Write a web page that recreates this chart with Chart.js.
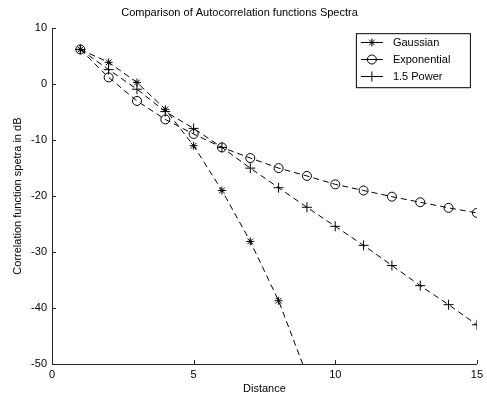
<!DOCTYPE html>
<html lang="en">
<head>
<meta charset="UTF-8">
<title>Comparison of Autocorrelation functions Spectra</title>
<script src="https://cdn.jsdelivr.net/npm/chart.js@4.4.1/dist/chart.umd.min.js"></script>
<style>
  html, body { margin: 0; padding: 0; background: #fff; }
</style>
</head>
<body>
<canvas id="spectraChart" width="487" height="398"></canvas>
<script>
// distance samples and spectra (dB) for each autocorrelation model
const distance = [1, 2, 3, 4, 5, 6, 7, 8, 9, 10, 11, 12, 13, 14, 15];
const gaussian = [6.2, 3.9, 0.3, -4.5, -11.0, -19.0, -28.1, -38.7, -52.0];
const exponential = [6.2, 1.2, -3.0, -6.3, -8.9, -11.3, -13.2, -15.0, -16.4, -17.9, -19.0, -20.1, -21.1, -22.1, -23.0];
const power15 = [6.2, 2.6, -0.9, -4.9, -7.9, -11.3, -15.0, -18.5, -22.0, -25.4, -28.8, -32.4, -36.0, -39.4, -43.0];
const seriesNames = ['Gaussian', 'Exponential', '1.5 Power'];
const xTicks = [0, 5, 10, 15];
const yTicks = [-50, -40, -30, -20, -10, 0, 10];

const FONT = 'Arial, "Liberation Sans", sans-serif';
const INK = '#000';
const AXIS = '#262626';

function toPoints(values) {
    return values.map((v, i) => ({ x: distance[i], y: v }));
}

function seriesStyle(label, values, pointStyle, radius) {
    return {
        label: label,
        data: toPoints(values),
        showLine: true,
        borderColor: INK,
        borderWidth: 1,
        borderDash: [6, 4],
        pointStyle: pointStyle,
        pointRadius: radius,
        pointHoverRadius: radius,
        pointBorderColor: INK,
        pointBackgroundColor: 'rgba(0,0,0,0)',
        pointBorderWidth: 1
    };
}

// MATLAB style tick marks pointing into the axes
const innerTicks = {
    id: 'innerTicks',
    afterDraw(chart) {
        const { ctx, chartArea, scales } = chart;
        ctx.save();
        ctx.strokeStyle = AXIS;
        ctx.lineWidth = 1;
        scales.x.ticks.forEach(t => {
            const px = Math.round(scales.x.getPixelForValue(t.value)) + 0.5;
            ctx.beginPath();
            ctx.moveTo(px, chartArea.bottom);
            ctx.lineTo(px, chartArea.bottom - 4);
            ctx.stroke();
        });
        scales.y.ticks.forEach(t => {
            const py = Math.round(scales.y.getPixelForValue(t.value)) + 0.5;
            ctx.beginPath();
            ctx.moveTo(chartArea.left, py);
            ctx.lineTo(chartArea.left + 4, py);
            ctx.stroke();
        });
        ctx.restore();
    }
};

// boxed legend with line + marker samples
const boxLegend = {
    id: 'boxLegend',
    afterDraw(chart) {
        const { ctx, chartArea } = chart;
        const w = 114, h = 54;
        const left = chartArea.right - 7 - w;
        const top = chartArea.top + 5;
        ctx.save();
        ctx.fillStyle = '#fff';
        ctx.fillRect(left, top, w, h);
        ctx.strokeStyle = INK;
        ctx.lineWidth = 1;
        ctx.strokeRect(left + 0.5, top + 0.5, w, h);
        ctx.font = '11px ' + FONT;
        ctx.textBaseline = 'middle';
        chart.data.datasets.forEach((ds, i) => {
            const cy = top + 9 + i * 17;
            ctx.strokeStyle = INK;
            ctx.setLineDash([]);
            ctx.beginPath();
            ctx.moveTo(left + 5, Math.round(cy) + 0.5);
            ctx.lineTo(left + 27, Math.round(cy) + 0.5);
            ctx.stroke();
            ctx.fillStyle = 'rgba(0,0,0,0)';
            Chart.helpers.drawPoint(ctx, {
                pointStyle: ds.pointStyle,
                radius: ds.pointRadius,
                rotation: 0,
                borderWidth: 1
            }, left + 16, Math.round(cy) + 0.5);
            ctx.fillStyle = INK;
            ctx.fillText(seriesNames[i], left + 37, cy + 0.5);
        });
        ctx.restore();
    }
};

new Chart(document.getElementById('spectraChart'), {
    type: 'scatter',
    data: {
        datasets: [
            seriesStyle(seriesNames[0], gaussian, 'star', 4),
            seriesStyle(seriesNames[1], exponential, 'circle', 4.5),
            seriesStyle(seriesNames[2], power15, 'cross', 5)
        ]
    },
    options: {
        responsive: false,
        animation: false,
        events: [],
        layout: { padding: { top: 0, right: 8, bottom: 0, left: 0 } },
        plugins: {
            legend: { display: false },
            tooltip: { enabled: false },
            title: {
                display: true,
                text: 'Comparison of Autocorrelation functions Spectra',
                color: INK,
                font: { family: FONT, size: 11, weight: 'normal' },
                padding: { top: 6, bottom: 9 }
            }
        },
        scales: {
            x: {
                type: 'linear',
                min: 0,
                max: 15,
                afterBuildTicks: s => { s.ticks = xTicks.map(v => ({ value: v })); },
                afterFit: s => { s.height = 34; },
                grid: { drawOnChartArea: false, drawTicks: false },
                border: { display: true, color: AXIS, width: 1 },
                ticks: { color: INK, padding: 4, font: { family: FONT, size: 11 } },
                title: {
                    display: true,
                    text: 'Distance',
                    color: INK,
                    font: { family: FONT, size: 11 },
                    padding: { top: 0, bottom: 2 }
                }
            },
            y: {
                type: 'linear',
                min: -50,
                max: 10,
                afterBuildTicks: s => { s.ticks = yTicks.map(v => ({ value: v })); },
                afterFit: s => { s.width = 52; },
                grid: { drawOnChartArea: false, drawTicks: false },
                border: { display: true, color: AXIS, width: 1 },
                ticks: { color: INK, padding: 5, font: { family: FONT, size: 11 } },
                title: {
                    display: true,
                    text: 'Correlation function spetra in dB',
                    color: INK,
                    font: { family: FONT, size: 11 },
                    padding: { top: 11, bottom: 0 }
                }
            }
        }
    },
    plugins: [innerTicks, boxLegend]
});
</script>
</body>
</html>
